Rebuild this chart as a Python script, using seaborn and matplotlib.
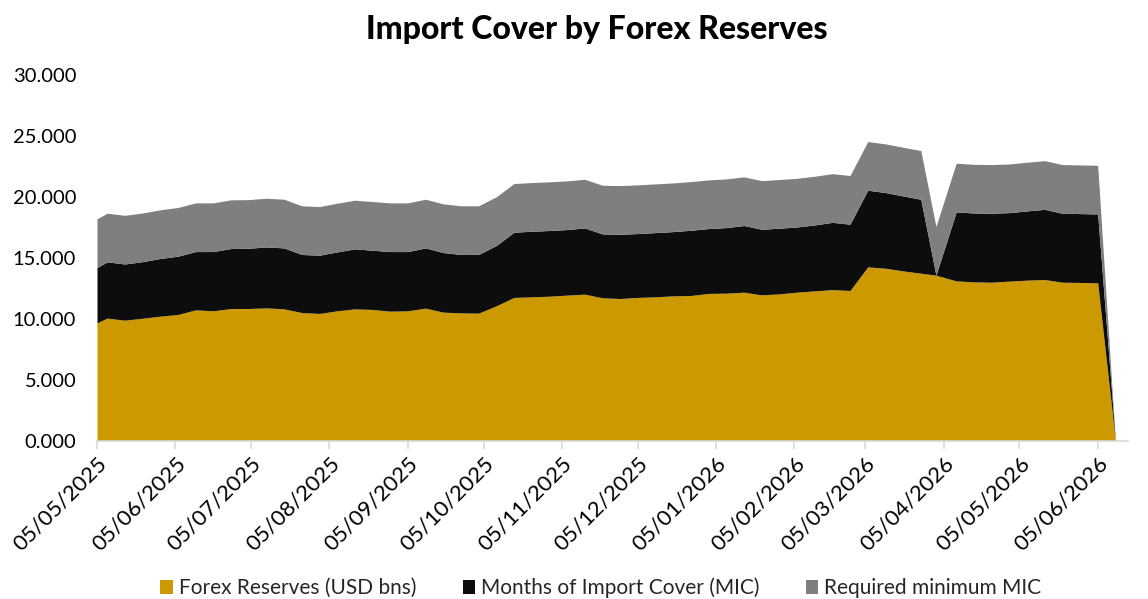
import matplotlib
matplotlib.use("Agg")
import matplotlib.pyplot as plt
import matplotlib.dates as mdates
from matplotlib.ticker import MultipleLocator, FormatStrFormatter
from matplotlib.patches import Patch
import seaborn as sns
import pandas as pd

# Weekly observations (first row is the series start, last row closes the area)
dates = [
    "05/05/2025", "09/05/2025", "16/05/2025", "23/05/2025", "30/05/2025",
    "06/06/2025", "13/06/2025", "20/06/2025", "27/06/2025", "04/07/2025",
    "11/07/2025", "18/07/2025", "25/07/2025", "01/08/2025", "08/08/2025",
    "15/08/2025", "22/08/2025", "29/08/2025", "05/09/2025", "12/09/2025",
    "19/09/2025", "26/09/2025", "03/10/2025", "10/10/2025", "17/10/2025",
    "24/10/2025", "31/10/2025", "07/11/2025", "14/11/2025", "21/11/2025",
    "28/11/2025", "05/12/2025", "12/12/2025", "19/12/2025", "26/12/2025",
    "02/01/2026", "09/01/2026", "16/01/2026", "23/01/2026", "30/01/2026",
    "06/02/2026", "13/02/2026", "20/02/2026", "27/02/2026", "06/03/2026",
    "13/03/2026", "20/03/2026", "27/03/2026", "02/04/2026", "10/04/2026",
    "17/04/2026", "24/04/2026", "01/05/2026", "08/05/2026", "15/05/2026",
    "22/05/2026", "29/05/2026", "05/06/2026", "12/06/2026",
]

forex_reserves = [
    9.67, 10.06, 9.89, 10.05, 10.22, 10.36, 10.74, 10.66, 10.85, 10.85,
    10.90, 10.82, 10.52, 10.44, 10.66, 10.82, 10.77, 10.63, 10.66, 10.88,
    10.55, 10.49, 10.47, 11.07, 11.76, 11.81, 11.86, 11.95, 12.03, 11.73,
    11.67, 11.76, 11.81, 11.89, 11.92, 12.09, 12.11, 12.19, 11.97, 12.05,
    12.19, 12.30, 12.40, 12.33, 14.27, 14.16, 13.94, 13.75, 13.59, 13.12,
    13.04, 13.01, 13.10, 13.18, 13.23, 13.01, 12.99, 12.96, 0.0,
]

import_cover = [
    4.55, 4.62, 4.62, 4.65, 4.74, 4.79, 4.79, 4.87, 4.93, 4.95,
    5.01, 5.01, 4.77, 4.79, 4.84, 4.93, 4.87, 4.90, 4.87, 4.95,
    4.90, 4.80, 4.82, 4.96, 5.36, 5.39, 5.40, 5.39, 5.44, 5.25,
    5.28, 5.25, 5.28, 5.28, 5.36, 5.33, 5.39, 5.48, 5.39, 5.40,
    5.36, 5.42, 5.53, 5.45, 6.30, 6.22, 6.16, 6.08, 0.00, 5.67,
    5.66, 5.67, 5.63, 5.69, 5.77, 5.67, 5.66, 5.66, 0.0,
]

required_min = [4.0] * 58 + [0.0]

series_labels = ["Forex Reserves (USD bns)", "Months of Import Cover (MIC)",
                 "Required minimum MIC"]
series_colors = ["#CC9900", "#0D0D0D", "#7F7F7F"]

sns.set_theme(style="white")
plt.rcParams["font.family"] = ["Lato", "DejaVu Sans"]

x = pd.to_datetime(dates, format="%d/%m/%Y")

W, H = 1148, 599
fig = plt.figure(figsize=(W / 100, H / 100), dpi=100)
ax = fig.add_axes([97 / W, 1 - 440.5 / H, (1128 - 97) / W, (440.5 - 75.5) / H])

ax.stackplot(x, forex_reserves, import_cover, required_min,
             colors=series_colors, labels=series_labels, linewidth=0)

ax.set_ylim(0, 30)
ax.set_xlim(pd.Timestamp("2025-05-05"), pd.Timestamp("2026-06-17"))
ax.yaxis.set_major_locator(MultipleLocator(5))
ax.yaxis.set_major_formatter(FormatStrFormatter("%.3f"))
ax.xaxis.set_major_locator(mdates.MonthLocator(bymonthday=5))
ax.xaxis.set_major_formatter(mdates.DateFormatter("%d/%m/%Y"))

for side in ["top", "right", "left"]:
    ax.spines[side].set_visible(False)
ax.spines["bottom"].set_color("#D9D9D9")
ax.spines["bottom"].set_linewidth(1.2)
ax.grid(False)

ax.tick_params(axis="x", length=6, width=1.2, color="#D9D9D9", labelsize=16,
               labelcolor="#000000", pad=3, bottom=True)
ax.tick_params(axis="y", length=0, pad=15, labelsize=14.5, labelcolor="#000000")
plt.setp(ax.get_xticklabels(), rotation=45, ha="right", va="top",
         rotation_mode="anchor")

fig.text(597 / W, 1 - 30 / H, "Import Cover by Forex Reserves",
         ha="center", va="center", fontsize=23, fontweight=900, color="#000000")

handles = [Patch(facecolor=c, edgecolor="none") for c in series_colors]
fig.legend(handles, series_labels, loc="center", bbox_to_anchor=(601 / W, 1 - 588 / H),
           ncol=3, frameon=False, fontsize=15, handlelength=0.6, handleheight=0.6,
           handletextpad=0.3, columnspacing=2.2, borderpad=0)

fig.savefig("out.png", dpi=100, facecolor="white")
